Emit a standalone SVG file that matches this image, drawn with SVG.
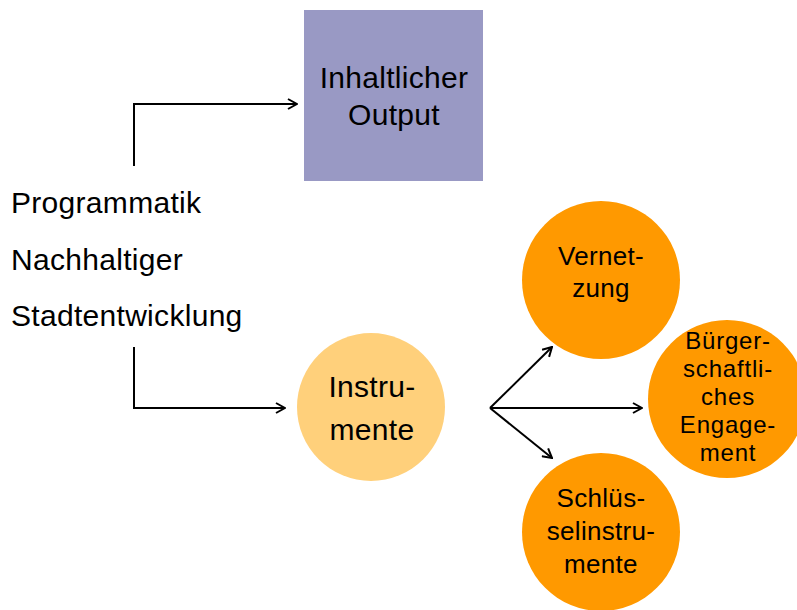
<svg xmlns="http://www.w3.org/2000/svg" width="797" height="610" viewBox="0 0 797 610">
  <defs>
    <marker id="arrow" viewBox="0 0 12 12" refX="11" refY="6" markerWidth="12" markerHeight="12" markerUnits="userSpaceOnUse" orient="auto">
      <path d="M2,1 L11,6 L2,11" fill="none" stroke="#000" stroke-width="2" stroke-linejoin="miter"/>
    </marker>
    <style>
      .lbl { font-family: "Liberation Sans", Arial, sans-serif; fill: #000; letter-spacing: 0.3px; }
      .big { font-size: 30px; }
      .small { font-size: 26px; }
      .tight { font-size: 24px; letter-spacing: 0.8px; }
      .mid { text-anchor: middle; }
      .conn { fill: none; stroke: #000; stroke-width: 2; marker-end: url(#arrow); }
      .dark { fill: #FF9900; }
    </style>
  </defs>
  <rect width="797" height="610" fill="#fff"/>

  <!-- connectors -->
  <g id="connectors">
    <path class="conn" d="M134,166 V104 H297"/>
    <path class="conn" d="M134,347 V408 H285"/>
    <path class="conn" d="M490,408 L552,347"/>
    <path class="conn" d="M490,408 H642"/>
    <path class="conn" d="M490,408 L552,458"/>
  </g>

  <g id="programmatik">
    <text class="lbl big" x="11" y="213">Programmatik</text>
    <text class="lbl big" x="11" y="270">Nachhaltiger</text>
    <text class="lbl big" x="11" y="326">Stadtentwicklung</text>
  </g>

  <g id="output">
    <rect x="304" y="10" width="179" height="171" fill="#9999C4"/>
    <text class="lbl big mid" x="394" y="88">Inhaltlicher</text>
    <text class="lbl big mid" x="394" y="125">Output</text>
  </g>

  <g id="instrumente">
    <circle cx="371" cy="407" r="74" fill="#FFD07B"/>
    <text class="lbl big mid" x="372" y="397">Instru-</text>
    <text class="lbl big mid" x="372" y="440">mente</text>
  </g>

  <g id="vernetzung">
    <circle class="dark" cx="601" cy="280" r="79"/>
    <text class="lbl small mid" x="601" y="265">Vernet-</text>
    <text class="lbl small mid" x="601" y="297">zung</text>
  </g>

  <g id="engagement">
    <circle class="dark" cx="727" cy="399" r="79"/>
    <text class="lbl tight mid" x="728" y="349">Bürger-</text>
    <text class="lbl tight mid" x="728" y="377">schaftli-</text>
    <text class="lbl tight mid" x="728" y="405">ches</text>
    <text class="lbl tight mid" x="728" y="433">Engage-</text>
    <text class="lbl tight mid" x="728" y="461">ment</text>
  </g>

  <g id="schluesselinstrumente">
    <circle class="dark" cx="601" cy="532" r="79"/>
    <text class="lbl small mid" x="601" y="507">Schlüs-</text>
    <text class="lbl small mid" x="601" y="540">selinstru-</text>
    <text class="lbl small mid" x="601" y="573">mente</text>
  </g>
</svg>
